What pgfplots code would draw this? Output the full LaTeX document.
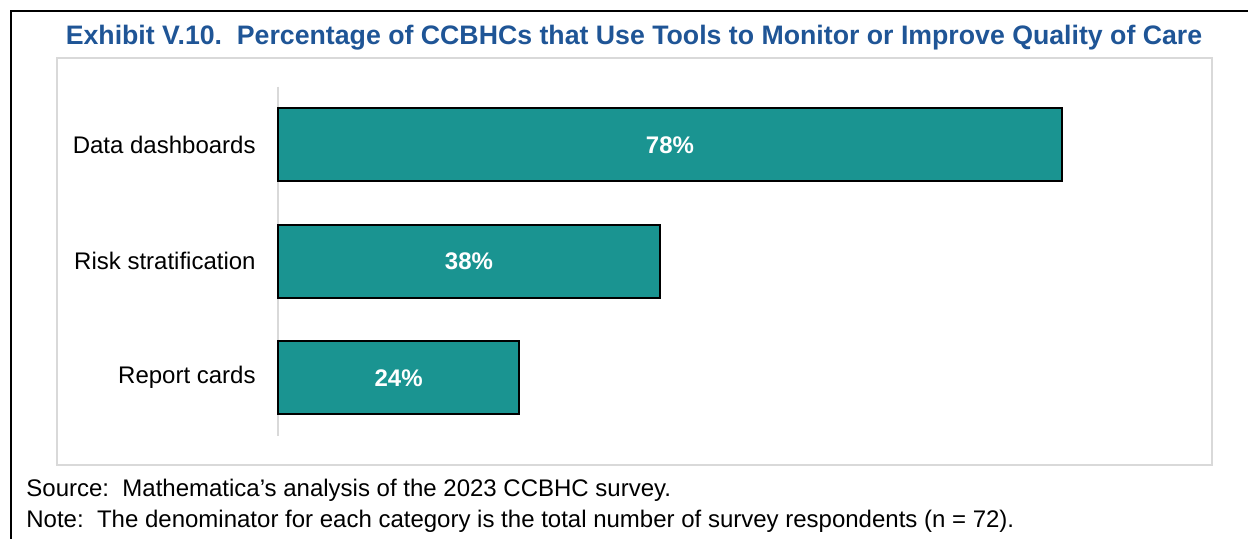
\documentclass[border=0pt]{standalone}
\usepackage{fontspec}
\setmainfont{Liberation Sans}
\usepackage{pgfplots}
\pgfplotsset{compat=1.18}
\usepackage{xcolor}
\definecolor{titleblue}{HTML}{1F5596}
\definecolor{barteal}{HTML}{1A9491}
\definecolor{framegray}{HTML}{D9D9D9}

\begin{document}
\begin{tikzpicture}
% picture laid out in pixels of the reference: 1 px = 0.5 pt, y downwards
\begin{scope}[x=0.5pt, y=-0.5pt]
\useasboundingbox (0,0) rectangle (1248,539);
% outer frame (only top and left visible)
\draw[line width=1pt, black] (11,539) -- (11,11) -- (1248,11);
% chart area
\draw[line width=0.75pt, framegray] (57,58) rectangle (1212,465);
% title
\node[anchor=base, inner sep=0pt, text=titleblue, font=\fontsize{13.35}{15}\selectfont\bfseries]
  at (634,45) {Exhibit V.10.\ \ Percentage of CCBHCs that Use Tools to Monitor or Improve Quality of Care};
% notes
\node[anchor=base west, inner sep=0pt, font=\fontsize{12}{14}\selectfont]
  at (26,497) {Source:\ \ Mathematica’s analysis of the 2023 CCBHC survey.};
\node[anchor=base west, inner sep=0pt, font=\fontsize{12}{14}\selectfont]
  at (26,528) {Note:\ \ The denominator for each category is the total number of survey respondents (n = 72).};
\coordinate (ax) at (278,436);
\end{scope}

\begin{axis}[
  at={(ax)}, anchor=south west,
  scale only axis,
  width=502.5pt, height=174.75pt,
  xmin=0, xmax=100,
  ymin=-0.5, ymax=2.5,
  y dir=reverse,
  xbar, bar width=36.5pt,
  axis x line=none,
  axis y line*=left,
  y axis line style={framegray, line width=0.75pt},
  ytick={0,1,2},
  yticklabels={Data dashboards, Risk stratification, Report cards},
  ytick style={draw=none},
  major tick length=0pt,
  yticklabel style={font=\fontsize{12}{14}\selectfont, inner sep=0pt, xshift=-11pt},
  clip=false,
  /pgf/number format/assume math mode=true,
  visualization depends on=rawx \as \rawx,
  nodes near coords={\pgfmathprintnumber{\pgfplotspointmeta}\%},
  point meta=x,
  every node near coord/.append style={anchor=center, text=white,
    font=\fontsize{12}{14}\selectfont\bfseries,
    shift={(axis direction cs:-\rawx/2,0)}},
]
\addplot[fill=barteal, draw=black, line width=0.9pt] coordinates {
  (78,0) (38,1) (24,2)
};
\end{axis}
\end{tikzpicture}
\end{document}
